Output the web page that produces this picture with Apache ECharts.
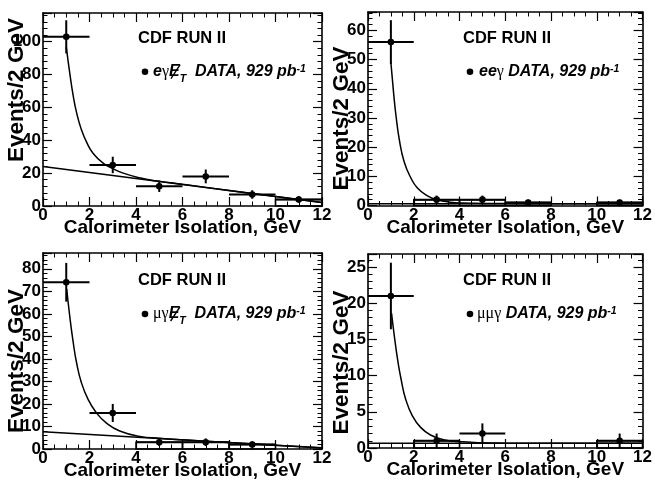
<!DOCTYPE html>
<html><head><meta charset="utf-8">
<script src="https://cdn.jsdelivr.net/npm/echarts@6/dist/echarts.min.js"></script>
<style>html,body{margin:0;padding:0;background:#fff}#c{width:655px;height:485px}</style>
</head><body><div id="c"></div>
<script>
// ================= DATA =================
const xTickLabels = [0, 2, 4, 6, 8, 10, 12];

// Panel 1: e gamma MET
const egX = [1, 3, 5, 7, 9, 11];
const egY = [103, 25, 12, 18, 7, 4];
const egYErr = [10.1, 5, 3.5, 4.2, 2.6, 2];
const egXErr = [1, 1, 1, 1, 1, 1];
const egBoxes = [[10, 12, 4]];
const egFitX = [1.0, 1.15, 1.3, 1.45, 1.65, 1.87, 2.16, 2.6, 3.0, 3.45, 4.2, 4.9, 6, 8, 10, 12];
const egFitY = [97, 81, 67, 56.5, 46.5, 39, 32, 26, 22.8, 20, 17, 15.3, 13.2, 9.5, 5.8, 2.1];
const egBkgX = [0, 12];
const egBkgY = [24, 2.1];
const egYTicks = [0, 20, 40, 60, 80, 100];

// Panel 2: e e gamma
const eeX = [1, 3, 5, 7, 11];
const eeY = [56, 2, 2, 1, 1];
const eeYErr = [7.5, 1.4, 1.4, 1, 1];
const eeXErr = [1, 1, 1, 1, 1];
const eeBoxes = [[2, 4, 2], [4, 6, 2], [6, 8, 1], [10, 12, 1]];
const eeFitX = [1.0, 1.12, 1.22, 1.37, 1.58, 1.87, 2.16, 2.6, 3.0, 3.6, 4.2, 5, 6, 8, 12];
const eeFitY = [49, 38.5, 31, 22.5, 15, 9.5, 6, 3.3, 2.0, 1.15, 0.85, 0.72, 0.65, 0.6, 0.6];
const eeBkgX = [0, 12];
const eeBkgY = [0.6, 0.6];
const eeYTicks = [0, 10, 20, 30, 40, 50, 60];

// Panel 3: mu gamma MET
const mgX = [1, 3, 5, 7, 9];
const mgY = [74, 16, 3, 3, 2];
const mgYErr = [8.6, 4, 1.7, 1.7, 1.4];
const mgXErr = [1, 1, 1, 1, 1];
const mgBoxes = [[4, 6, 3], [6, 8, 3], [8, 10, 2]];
const mgFitX = [1.02, 1.15, 1.29, 1.44, 1.65, 1.94, 2.3, 2.73, 3.3, 4.17, 5, 6, 8, 10, 12];
const mgFitY = [71, 59, 48, 38.5, 29.5, 22, 16, 11.5, 8, 5.6, 4.8, 4.1, 2.9, 1.7, 0.5];
const mgBkgX = [0, 12];
const mgBkgY = [7.7, 0.4];
const mgYTicks = [0, 10, 20, 30, 40, 50, 60, 70, 80];

// Panel 4: mu mu gamma
const mmX = [1, 3, 5, 11];
const mmY = [21, 1, 2, 1];
const mmYErr = [4.6, 1, 1.4, 1];
const mmXErr = [1, 1, 1, 1];
const mmBoxes = [[2, 4, 1], [10, 12, 1]];
const mmFitX = [1.03, 1.15, 1.29, 1.44, 1.65, 1.94, 2.3, 2.73, 3.3, 4.17, 5, 6, 8, 12];
const mmFitY = [18.6, 15.5, 12.3, 9.6, 6.7, 4.45, 2.85, 1.8, 1.15, 0.85, 0.72, 0.67, 0.65, 0.65];
const mmBkgX = [0, 12];
const mmBkgY = [0.65, 0.65];
const mmYTicks = [0, 5, 10, 15, 20, 25];

const xTitle = 'Calorimeter Isolation, GeV';
const yTitle = 'Events/2 GeV';
const runLabel = 'CDF RUN II';

// ================= LAYOUT =================
const FONT = '"Liberation Sans", Arial, sans-serif';
const SERIF = '"Liberation Serif", "DejaVu Serif", serif';
const panels = [
  { grid: {left: 43, top: 13, width: 279, height: 193}, ymax: 117.5,
    X: egX, Y: egY, XE: egXErr, YE: egYErr, boxes: egBoxes, fitX: egFitX, fitY: egFitY, bkgX: egBkgX, bkgY: egBkgY, yTicks: egYTicks,
    yTitle: {x: 16.5, y: 90, size: 22.5}, run: {x: 138, y: 38.5},
    leg: {dotX: 145, y: 71.7, x: 153,
      pieces: [['e','it'],['γ','g'],['E','it',1],['T','sub'],['  DATA, 929 pb','it'],['-1','sup']]} },
  { grid: {left: 368, top: 12, width: 279, height: 193.5}, ymax: 66.3,
    X: eeX, Y: eeY, XE: eeXErr, YE: eeYErr, boxes: eeBoxes, fitX: eeFitX, fitY: eeFitY, bkgX: eeBkgX, bkgY: eeBkgY, yTicks: eeYTicks,
    yTitle: {x: 341.5, y: 118.5, size: 22.5}, run: {x: 463, y: 38.5},
    leg: {dotX: 470, y: 71.7, x: 479,
      pieces: [['ee','it'],['γ','g'],[' DATA, 929 pb','it'],['-1','sup']]} },
  { grid: {left: 43, top: 253, width: 279, height: 196}, ymax: 87,
    X: mgX, Y: mgY, XE: mgXErr, YE: mgYErr, boxes: mgBoxes, fitX: mgFitX, fitY: mgFitY, bkgX: mgBkgX, bkgY: mgBkgY, yTicks: mgYTicks,
    yTitle: {x: 16.5, y: 361, size: 22.5}, run: {x: 138, y: 280},
    leg: {dotX: 145, y: 314, x: 153,
      pieces: [['μγ','g'],['E','it',1],['T','sub'],['  DATA, 929 pb','it'],['-1','sup']]} },
  { grid: {left: 368, top: 254, width: 279, height: 194}, ymax: 26.8,
    X: mmX, Y: mmY, XE: mmXErr, YE: mmYErr, boxes: mmBoxes, fitX: mmFitX, fitY: mmFitY, bkgX: mmBkgX, bkgY: mmBkgY, yTicks: mmYTicks,
    yTitle: {x: 341.5, y: 362.5, size: 22.5}, run: {x: 463, y: 280},
    leg: {dotX: 470, y: 314, x: 477,
      pieces: [['μμγ','g'],[' DATA, 929 pb','it'],['-1','sup']]} }
];
const pieceFont = {
  it: 'italic bold 16px ' + FONT,
  g: '16px ' + SERIF,
  sub: 'italic bold 10.5px ' + FONT,
  sup: 'italic bold 10.5px ' + FONT
};
const pieceDy = {it: 0, g: 0, sub: 7, sup: -3};

const chart = echarts.init(document.getElementById('c'), null, {renderer: 'canvas'});
const grids = [], xAxes = [], yAxes = [], series = [], graphics = [];
const tickStyle = {color: '#000', width: 1.2};

panels.forEach((p, g) => {
  grids.push(Object.assign({show: false}, p.grid));
  const yInt = p.yTicks[1] - p.yTicks[0];
  ['bottom', 'top'].forEach(pos => {
    xAxes.push({
      type: 'value', gridIndex: g, position: pos, min: xTickLabels[0], max: xTickLabels[xTickLabels.length - 1],
      interval: xTickLabels[1] - xTickLabels[0],
      axisLine: {show: true, onZero: false, lineStyle: {color: '#000', width: 1.6}},
      axisTick: {show: true, inside: true, length: 9, lineStyle: tickStyle},
      minorTick: {show: true, splitNumber: 4, length: 4.5, lineStyle: {color: '#000', width: 1}},
      splitLine: {show: false},
      axisLabel: {show: pos === 'bottom', margin: 1, color: '#000', fontFamily: FONT, fontWeight: 'bold', fontSize: 17},
      name: pos === 'bottom' ? xTitle : '', nameLocation: 'middle', nameGap: 12.5, nameMoveOverlap: false,
      nameTextStyle: {color: '#000', fontFamily: FONT, fontWeight: 'bold', fontSize: 19}
    });
  });
  ['left', 'right'].forEach(pos => {
    yAxes.push({
      type: 'value', gridIndex: g, position: pos, min: 0, max: p.ymax, interval: yInt,
      axisLine: {show: true, onZero: false, lineStyle: {color: '#000', width: 1.6}},
      axisTick: {show: true, inside: true, length: 9, lineStyle: tickStyle},
      minorTick: {show: true, splitNumber: 5, length: 4.5, lineStyle: {color: '#000', width: 1}},
      splitLine: {show: false},
      axisLabel: {show: pos === 'left', showMaxLabel: false, margin: 2, color: '#000', fontFamily: FONT, fontWeight: 'bold', fontSize: 17}
    });
  });
  const xi = 2 * g, yi = 2 * g;
  // background boxes
  series.push({
    type: 'custom', xAxisIndex: xi, yAxisIndex: yi, silent: true, z: 2,
    data: p.boxes.map(b => [b[0], b[1], b[2]]),
    encode: {x: [0, 1], y: 2},
    renderItem: (params, api) => {
      const a = api.coord([api.value(0), api.value(2)]);
      const b = api.coord([api.value(1), 0]);
      return {type: 'rect', shape: {x: a[0], y: a[1], width: b[0] - a[0], height: b[1] - a[1]},
        style: {fill: 'none', stroke: '#000', lineWidth: 1.5}};
    }
  });
  // background line
  series.push({
    type: 'line', xAxisIndex: xi, yAxisIndex: yi, silent: true, showSymbol: false, z: 3,
    data: p.bkgX.map((x, i) => [x, p.bkgY[i]]),
    lineStyle: {color: '#000', width: 1.5}
  });
  // fit curve
  series.push({
    type: 'line', xAxisIndex: xi, yAxisIndex: yi, silent: true, showSymbol: false, z: 3,
    smooth: 0.5,
    data: p.fitX.map((x, i) => [x, p.fitY[i]]),
    lineStyle: {color: '#000', width: 1.5}
  });
  // data with error bars
  series.push({
    type: 'custom', xAxisIndex: xi, yAxisIndex: yi, silent: true, z: 4,
    data: p.X.map((x, i) => [x, p.Y[i], p.XE[i], p.YE[i]]),
    encode: {x: 0, y: 1},
    renderItem: (params, api) => {
      const x = api.value(0), y = api.value(1), ex = api.value(2), ey = api.value(3);
      const c = api.coord([x, y]);
      const l = api.coord([x - ex, y]), r = api.coord([x + ex, y]);
      const t = api.coord([x, y + ey]), b = api.coord([x, Math.max(0, y - ey)]);
      const st = {stroke: '#000', lineWidth: 2};
      return {type: 'group', children: [
        {type: 'line', shape: {x1: l[0], y1: l[1], x2: r[0], y2: r[1]}, style: st},
        {type: 'line', shape: {x1: t[0], y1: t[1], x2: b[0], y2: b[1]}, style: st},
        {type: 'circle', shape: {cx: c[0], cy: c[1], r: 3.3}, style: {fill: '#000'}}
      ]};
    }
  });
  // texts
  graphics.push({type: 'text', x: p.yTitle.x, y: p.yTitle.y, rotation: Math.PI / 2,
    style: {text: yTitle, font: 'bold ' + p.yTitle.size + 'px ' + FONT, fill: '#000',
      align: 'center', verticalAlign: 'middle', textAlign: 'center', textVerticalAlign: 'middle'}});
  graphics.push({type: 'text', x: p.run.x, y: p.run.y,
    style: {text: runLabel, font: 'bold 16.5px ' + FONT, fill: '#000',
      align: 'left', verticalAlign: 'middle', textAlign: 'left', textVerticalAlign: 'middle'}});
  graphics.push({type: 'circle', shape: {cx: p.leg.dotX, cy: p.leg.y, r: 3.3}, style: {fill: '#000'}});
  const ctx = document.createElement('canvas').getContext('2d');
  let cx = p.leg.x;
  p.leg.pieces.forEach(pc => {
    const f = pieceFont[pc[1]];
    ctx.font = f;
    const w = ctx.measureText(pc[0]).width;
    graphics.push({type: 'text', x: cx, y: p.leg.y + pieceDy[pc[1]],
      style: {text: pc[0], font: f, fill: '#000', align: 'left', verticalAlign: 'middle',
        textAlign: 'left', textVerticalAlign: 'middle'}});
    if (pc[2]) {
      graphics.push({type: 'line', shape: {x1: cx + w + 0.5, y1: p.leg.y - 7, x2: cx + 2, y2: p.leg.y + 7},
        style: {stroke: '#000', lineWidth: 1.4}});
    }
    cx += w;
  });
});

chart.setOption({
  animation: false,
  backgroundColor: '#fff',
  grid: grids, xAxis: xAxes, yAxis: yAxes, series: series,
  graphic: {elements: graphics}
});
</script></body></html>
